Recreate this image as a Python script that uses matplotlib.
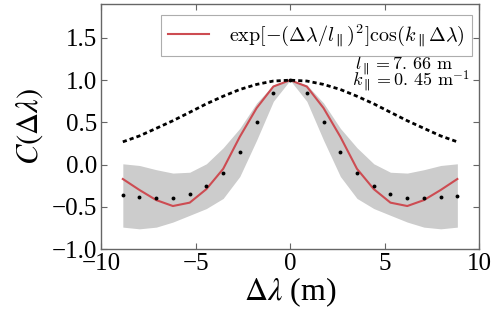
import numpy as np
import matplotlib
matplotlib.use("Agg")
import matplotlib.pyplot as plt
from matplotlib.font_manager import FontProperties

plt.rcParams['font.family'] = 'serif'
plt.rcParams['font.serif'] = ['Liberation Serif', 'DejaVu Serif']
plt.rcParams['mathtext.fontset'] = 'stix'

# lag positions (m)
lag = [-8.85, -7.97, -7.08, -6.20, -5.31, -4.43, -3.54, -2.66, -1.77, -0.885, 0.0,
       0.885, 1.77, 2.66, 3.54, 4.43, 5.31, 6.20, 7.08, 7.97, 8.85]

# measured correlation (dots)
corr = [-0.36, -0.38, -0.40, -0.39, -0.35, -0.25, -0.10, 0.15, 0.50, 0.85, 1.00,
        0.85, 0.50, 0.15, -0.10, -0.25, -0.35, -0.39, -0.40, -0.38, -0.37]

# spread of the measurements
upper = [0.01, -0.01, -0.06, -0.10, -0.09, 0.01, 0.20, 0.43, 0.73, 0.945, 1.00,
         0.945, 0.73, 0.43, 0.20, 0.01, -0.09, -0.10, -0.06, -0.01, 0.01]
lower = [-0.74, -0.76, -0.74, -0.68, -0.60, -0.52, -0.40, -0.14, 0.29, 0.75, 1.00,
         0.75, 0.29, -0.14, -0.40, -0.52, -0.60, -0.68, -0.74, -0.76, -0.74]

# fitted model (red)
fit = [-0.17, -0.30, -0.42, -0.49, -0.45, -0.29, -0.05, 0.33, 0.67, 0.925, 1.00,
       0.925, 0.67, 0.33, -0.05, -0.29, -0.45, -0.49, -0.42, -0.30, -0.17]

# gaussian envelope (dashed)
envelope = [0.27, 0.34, 0.43, 0.52, 0.62, 0.72, 0.81, 0.89, 0.95, 0.99, 1.00,
            0.99, 0.95, 0.89, 0.81, 0.72, 0.62, 0.52, 0.43, 0.34, 0.27]

fig = plt.figure(figsize=(4.98, 3.21), dpi=100)
ax = fig.add_axes([0.203, 0.224, 0.759, 0.763])

ax.fill_between(lag, lower, upper, color='#cccccc', lw=0)
ax.plot(lag, fit, color='#cd4c52', lw=1.5,
        label=r'$\exp[-(\Delta\lambda/l_\parallel)^2]\cos(k_\parallel\Delta\lambda)$')
ax.plot(lag, envelope, color='black', lw=2.0, ls=(0, (1.5, 1.1)))
ax.plot(lag, corr, 'o', color='black', ms=2.8, mew=0)

ax.set_xlim(-10, 10)
ax.set_ylim(-1.0, 1.9)
ax.set_xticks([-10, -5, 0, 5, 10])
ax.set_yticks([-1.0, -0.5, 0.0, 0.5, 1.0, 1.5])
ax.set_yticklabels(['\u22121.0', '\u22120.5', '0.0', '0.5', '1.0', '1.5'])
ax.set_xticklabels(['\u221210', '\u22125', '0', '5', '10'])

for sp in ax.spines.values():
    sp.set_color('#666666')
    sp.set_linewidth(1.0)
ax.tick_params(direction='in', top=True, right=True, length=4.5, width=0.8,
               color='#666666', labelsize=18, pad=3)

ax.set_xlabel(r'$\Delta\lambda$ (m)', fontsize=23, labelpad=0)
ax.set_ylabel(r'$C(\Delta\lambda)$', fontsize=22, labelpad=5)

prop = FontProperties(family='serif', size=14.5, math_fontfamily='cm')
leg = ax.legend(loc='upper right', prop=prop, fancybox=False, handlelength=2.0,
                handletextpad=1.0, borderpad=0.35, borderaxespad=0,
                bbox_to_anchor=(0.98, 0.955))
leg.get_frame().set_edgecolor('#999999')
leg.get_frame().set_linewidth(0.8)

ax.text(0.931, 0.735, r'$l_\parallel = 7.\,66\ \mathrm{m}$', transform=ax.transAxes,
        ha='right', va='baseline', fontsize=13, math_fontfamily='cm')
ax.text(0.976, 0.664, r'$k_\parallel = 0.\,45\ \mathrm{m}^{-1}$', transform=ax.transAxes,
        ha='right', va='baseline', fontsize=13, math_fontfamily='cm')

fig.savefig('out.png', dpi=100)
